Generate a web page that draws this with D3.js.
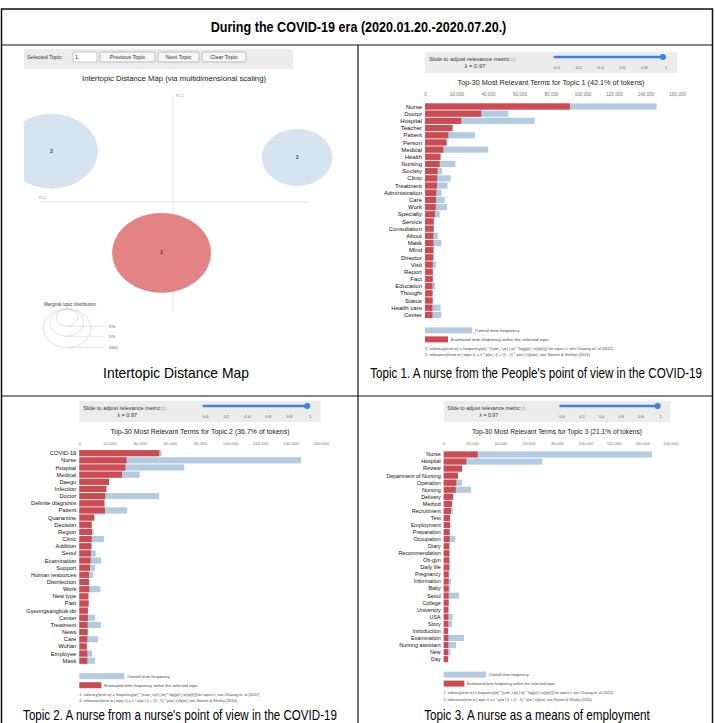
<!DOCTYPE html>
<html><head><meta charset="utf-8">
<script src="https://cdn.jsdelivr.net/npm/d3@7"></script>
<style>body{margin:0;background:#fff}svg{display:block;font-family:"Liberation Sans",Arial,sans-serif}</style>
</head><body><svg id="c" width="715" height="723"></svg>
<script>
// ---------------- DATA ----------------
const pageTitle = "During the COVID-19 era (2020.01.20.-2020.07.20.)";
const captions = ["Intertopic Distance Map",
  "Topic 1. A nurse from the People's point of view in the COVID-19",
  "Topic 2. A nurse from a nurse's point of view in the COVID-19",
  "Topic 3. A nurse as a means of employment"];
const topicIds = [1, 2, 3];
const topicShare = [42.1, 36.7, 21.1];
const topicPC1 = [-0.019, -0.2025, 0.207];
const topicPC2 = [-0.105, 0.105, 0.092];
const legendShares = [2, 5, 10];
const freqTicks = [0, 20000, 40000, 60000, 80000, 100000, 120000, 140000, 160000];
const lambdaTicks = ["0.0", "0.2", "0.4", "0.6", "0.8", "1"];
const buttons = ["Previous Topic", "Next Topic", "Clear Topic"];

const topic1Terms = ["Nurse","Doctor","Hospital","Teacher","Patient","Person","Medical","Health","Nursing","Society","Clinic","Treatment","Administration","Care","Work","Specialty","Service","Consultation","About","Mask","Mind","Director","Visit","Report","Fact","Education","Thought","Status","Health care","Center"];
const topic1Overall = [147000,52900,69600,18000,31700,14200,40000,10100,19300,10800,16300,14300,10400,12500,14000,9300,5600,5600,8200,10300,5700,5700,7000,5300,5100,6300,5100,5300,9900,10400];
const topic1Estimated = [92000,35700,23000,17300,14800,13700,11600,9700,9300,8000,7800,7600,7200,7000,6800,6300,5500,5500,5300,5300,5300,5100,4900,4900,4900,4700,4700,4700,4700,4700];

const topic2Terms = ["COVID-19","Nurse","Hospital","Medical","Daegu","Infection","Doctor","Definite diagnosis","Patient","Quarantine","Decision","Region","Clinic","Addition","Seoul","Examination","Support","Human resources","Disinfection","Work","New type","Past","Gyeongsangbuk-do","Center","Treatment","News","Care","Wuhan","Employee","Mask"];
const topic2Overall = [54600,147000,69600,40000,19800,18000,52900,16700,31700,10000,8300,9500,16300,8100,10900,14400,10400,9300,6500,14000,6100,6300,5800,10400,14300,5600,12500,5000,8400,10300];
const topic2Estimated = [53000,31400,30500,28300,19700,17900,17200,16600,17000,9900,8200,8400,8200,8000,7700,7500,7100,6400,6400,6600,6000,6200,5700,5700,5500,5500,5300,4900,5300,5300];

const topic3Terms = ["Nurse","Hospital","Review","Department of Nursing","Operation","Nursing","Delivery","Method","Recruitment","Test","Employment","Preparation","Occupation","Diary","Recommendation","Ob-gyn","Daily life","Pregnancy","Information","Baby","Seoul","College","University","USA","Story","Introduction","Examination","Nursing assistant","New","Day"];
const topic3Overall = [147000,69600,13000,10200,12900,19300,6700,6000,6400,4600,4600,4300,8200,4100,4100,4100,4100,3600,5200,4500,10900,3600,3400,6400,5900,3200,14400,8700,4700,3200];
const topic3Estimated = [24000,16000,12900,10100,8900,8500,6600,5900,5200,4500,4500,4200,4200,4000,4000,4000,4000,3500,3500,3500,3500,3500,3300,3300,3300,3100,3300,3300,3100,3100];

// ---------------- DRAW ----------------
const svg = d3.select("#c");
const RED = "#cd4a51", BLUE = "#b3cbe1", SLIDER = "#3f7fe6";

// table
svg.append("rect").attr("x", 1.5).attr("y", 9).attr("width", 711).attr("height", 740)
  .attr("fill", "none").attr("stroke", "#111").attr("stroke-width", 1.5);
svg.append("line").attr("x1", 1.5).attr("x2", 712.5).attr("y1", 45).attr("y2", 45).attr("stroke", "#111").attr("stroke-width", 1.2);
svg.append("line").attr("x1", 1.5).attr("x2", 712.5).attr("y1", 396).attr("y2", 396).attr("stroke", "#111").attr("stroke-width", 1.2);
svg.append("line").attr("x1", 358).attr("x2", 358).attr("y1", 45).attr("y2", 723).attr("stroke", "#111").attr("stroke-width", 1.2);

// horizontally condensed text helper (keeps glyph height, fits measured width)
function condensed(txt, cx, base, size, targetW, bold) {
  const t = svg.append("text").attr("x", 0).attr("y", 0).attr("text-anchor", "middle")
    .attr("font-size", size).attr("font-weight", bold ? "bold" : "normal").text(txt);
  const w = t.node().getComputedTextLength();
  const k = Math.min(1, targetW / w);
  t.attr("transform", `translate(${cx},${base}) scale(${k},1)`);
  return t;
}

condensed(pageTitle, 358.5, 32, 14, 296, true);
const capPos = [[176, 378, 146], [536, 378, 332], [180, 720, 314], [537, 720, 226]];
captions.forEach((c, i) => condensed(c, capPos[i][0], capPos[i][1], 14, capPos[i][2], false));

// ---------- Intertopic distance map ----------
(function () {
  const defs = svg.append("defs");
  defs.append("clipPath").attr("id", "mdsclip").append("rect").attr("x", 24).attr("y", 46).attr("width", 333).attr("height", 300);
  const g = svg.append("g");
  g.append("rect").attr("x", 24).attr("y", 49).attr("width", 269).attr("height", 20).attr("fill", "#ececec");
  g.append("text").attr("x", 27).attr("y", 58.8).attr("font-size", 5.3).attr("fill", "#333").text("Selected Topic:");
  g.append("rect").attr("x", 73).attr("y", 52).attr("width", 24).attr("height", 10).attr("fill", "#fff").attr("stroke", "#aaa").attr("stroke-width", 0.6);
  g.append("text").attr("x", 75).attr("y", 58.8).attr("font-size", 5.3).attr("fill", "#222").text(topicIds[0]);
  const bx = [100, 158, 202], bw = [55, 41, 44];
  buttons.forEach((b, i) => {
    g.append("rect").attr("x", bx[i]).attr("y", 52).attr("width", bw[i]).attr("height", 10).attr("rx", 1.2)
      .attr("fill", "#f6f6f6").attr("stroke", "#999").attr("stroke-width", 0.6);
    g.append("text").attr("x", bx[i] + bw[i] / 2).attr("y", 58.8).attr("text-anchor", "middle").attr("font-size", 5.5).attr("fill", "#333").text(b);
  });
  g.append("text").attr("x", 174).attr("y", 81).attr("text-anchor", "middle").attr("font-size", 7.4).attr("fill", "#222")
    .attr("textLength", 184).attr("lengthAdjust", "spacingAndGlyphs").text("Intertopic Distance Map (via multidimensional scaling)");

  const xS = d3.scaleLinear().domain([-0.25, 0.25]).range([23, 323]);
  const yS = d3.scaleLinear().domain([-0.25, 0.25]).range([323, 81]);
  const rS = d3.scaleSqrt().domain([0, 100]).range([0, 61]);
  const asp = 1.24;

  g.append("line").attr("x1", xS(0)).attr("x2", xS(0)).attr("y1", 95).attr("y2", 312).attr("stroke", "#e4e4e4").attr("stroke-width", 1);
  g.append("line").attr("x1", 40).attr("x2", 308).attr("y1", yS(0)).attr("y2", yS(0)).attr("stroke", "#e4e4e4").attr("stroke-width", 1);
  g.append("text").attr("x", xS(0) + 3).attr("y", 97).attr("font-size", 3.8).attr("fill", "#999").text("PC2");
  g.append("text").attr("x", 39).attr("y", yS(0) - 3).attr("font-size", 3.8).attr("fill", "#999").text("PC1");

  const cg = g.append("g").attr("clip-path", "url(#mdsclip)");
  topicIds.forEach((t, i) => {
    const r = rS(topicShare[i]);
    cg.append("ellipse").attr("cx", xS(topicPC1[i])).attr("cy", yS(topicPC2[i]))
      .attr("rx", r * asp).attr("ry", r)
      .attr("fill", i === 0 ? "#e48384" : "#d6e4ef")
      .attr("stroke", i === 0 ? "#d77172" : "#c9d9e6").attr("stroke-width", 0.6);
    cg.append("text").attr("x", xS(topicPC1[i])).attr("y", yS(topicPC2[i]) + 1.6).attr("text-anchor", "middle")
      .attr("font-size", 4.5).attr("font-weight", "bold").attr("fill", "#333").text(t);
  });

  g.append("text").attr("x", 44).attr("y", 306).attr("font-size", 4.6).attr("fill", "#444").text("Marginal topic distribution");
  const top = 309, lcx = 67;
  legendShares.slice().reverse().forEach(s => {
    const r = rS(s);
    g.append("ellipse").attr("cx", lcx).attr("cy", top + r).attr("rx", r * asp).attr("ry", r)
      .attr("fill", "none").attr("stroke", "#ccc").attr("stroke-width", 0.6);
    g.append("line").attr("x1", lcx).attr("x2", 104).attr("y1", top + 2 * r).attr("y2", top + 2 * r)
      .attr("stroke", "#ccc").attr("stroke-width", 0.5);
    g.append("text").attr("x", 109).attr("y", top + 2 * r + 1.5).attr("font-size", 4.3).attr("fill", "#555").text(s + "%");
  });
})();

// ---------- bar panels ----------
function barPanel(cfg, terms, overall, est, topicNo, share) {
  const s = cfg.s;
  const g = svg.append("g");
  const W = cfg.x1 - cfg.x0;
  const x = d3.scaleLinear().domain([0, 160000]).range([cfg.x0, cfg.x1]);
  const y = d3.scaleBand().domain(terms)
    .range([cfg.row0 - cfg.step / 2, cfg.row0 - cfg.step / 2 + terms.length * cfg.step]).padding(0.14);

  const bt = cfg.axisY - 42;
  g.append("rect").attr("x", cfg.x0).attr("y", bt).attr("width", W).attr("height", 21).attr("fill", "#ececec");
  const st = g.append("text").attr("x", cfg.x0 + 4 * s).attr("y", bt + 8.5).attr("font-size", 5.8 * s).attr("fill", "#333");
  st.append("tspan").text("Slide to adjust relevance metric:");
  st.append("tspan").attr("font-size", 3.8 * s).attr("fill", "#999").text("(2)");
  g.append("text").attr("x", cfg.x0 + 50 * s).attr("y", bt + 15.5).attr("text-anchor", "middle").attr("font-size", 5.8 * s).attr("fill", "#333").text("λ = 0.97");
  const lam = d3.scaleLinear().domain([0, 1]).range([cfg.x0 + W * 0.523, cfg.x0 + W * 0.957]);
  g.append("line").attr("x1", cfg.x0 + W * 0.515).attr("x2", lam(0.97)).attr("y1", bt + 5).attr("y2", bt + 5)
    .attr("stroke", SLIDER).attr("stroke-width", 2.6).attr("stroke-linecap", "round");
  g.append("circle").attr("cx", lam(0.97)).attr("cy", bt + 5).attr("r", 3).attr("fill", SLIDER);
  lambdaTicks.forEach((t, i) => {
    g.append("text").attr("x", lam(i / 5)).attr("y", bt + 16.5).attr("text-anchor", "middle")
      .attr("font-size", 4.3 * s).attr("fill", "#555").text(t);
  });

  g.append("text").attr("x", (cfg.x0 + cfg.x1) / 2).attr("y", cfg.axisY - 9).attr("text-anchor", "middle")
    .attr("font-size", 7.4 * s).attr("fill", "#222").attr("textLength", cfg.titleW).attr("lengthAdjust", "spacingAndGlyphs")
    .text(`Top-30 Most Relevant Terms for Topic ${topicNo} (${share}% of tokens)`);

  const ax = d3.axisTop(x).tickValues(freqTicks).tickFormat(d3.format(",")).tickSize(0).tickPadding(0);
  const ag = g.append("g").attr("transform", `translate(0,${cfg.axisY + 2})`).call(ax);
  ag.select(".domain").remove();
  ag.selectAll("text").attr("font-size", 4.6 * s).attr("fill", "#777").attr("font-family", "Liberation Sans, Arial, sans-serif");

  g.selectAll(".ov").data(terms).join("rect").attr("x", x(0)).attr("y", d => y(d))
    .attr("width", (d, i) => x(overall[i]) - x(0)).attr("height", y.bandwidth()).attr("fill", BLUE);
  g.selectAll(".es").data(terms).join("rect").attr("x", x(0)).attr("y", d => y(d))
    .attr("width", (d, i) => x(est[i]) - x(0)).attr("height", y.bandwidth()).attr("fill", RED);
  g.selectAll(".lb").data(terms).join("text").attr("x", x(0) - 3).attr("y", d => y(d) + y.bandwidth() / 2)
    .attr("dy", "0.35em").attr("text-anchor", "end").attr("font-size", 6 * s).attr("fill", "#111").text(d => d);

  const ly = cfg.row0 + (terms.length - 1) * cfg.step + 12;
  g.append("rect").attr("x", cfg.x0).attr("y", ly).attr("width", 47 * s).attr("height", 6).attr("fill", BLUE);
  g.append("text").attr("x", cfg.x0 + 50 * s).attr("y", ly + 4.5).attr("font-size", 4.4 * s).attr("fill", "#444").text("Overall term frequency");
  g.append("rect").attr("x", cfg.x0).attr("y", ly + 9).attr("width", 23 * s).attr("height", 6).attr("fill", RED);
  g.append("text").attr("x", cfg.x0 + 26 * s).attr("y", ly + 13.5).attr("font-size", 4.4 * s).attr("fill", "#444").text("Estimated term frequency within the selected topic");
  g.append("text").attr("x", cfg.x0).attr("y", ly + 22.5).attr("font-size", 4 * s).attr("fill", "#444")
    .text("1. saliency(term w) = frequency(w) * [sum_t p(t | w) * log(p(t | w)/p(t))] for topics t; see Chuang et. al (2012)");
  g.append("text").attr("x", cfg.x0).attr("y", ly + 29).attr("font-size", 4 * s).attr("fill", "#444")
    .text("2. relevance(term w | topic t) = λ * p(w | t) + (1 - λ) * p(w | t)/p(w); see Sievert & Shirley (2014)");
}

barPanel({ x0: 425, x1: 677, axisY: 94, row0: 106, step: 7.22, s: 1, titleW: 187 },
  topic1Terms, topic1Overall, topic1Estimated, 1, topicShare[0]);
barPanel({ x0: 79.3, x1: 320.7, axisY: 443, row0: 452.7, step: 7.19, s: 0.958, titleW: 179 },
  topic2Terms, topic2Overall, topic2Estimated, 2, topicShare[1]);
barPanel({ x0: 443.7, x1: 670.3, axisY: 443, row0: 454, step: 7.09, s: 0.9, titleW: 170 },
  topic3Terms, topic3Overall, topic3Estimated, 3, topicShare[2]);
</script>
</body></html>
